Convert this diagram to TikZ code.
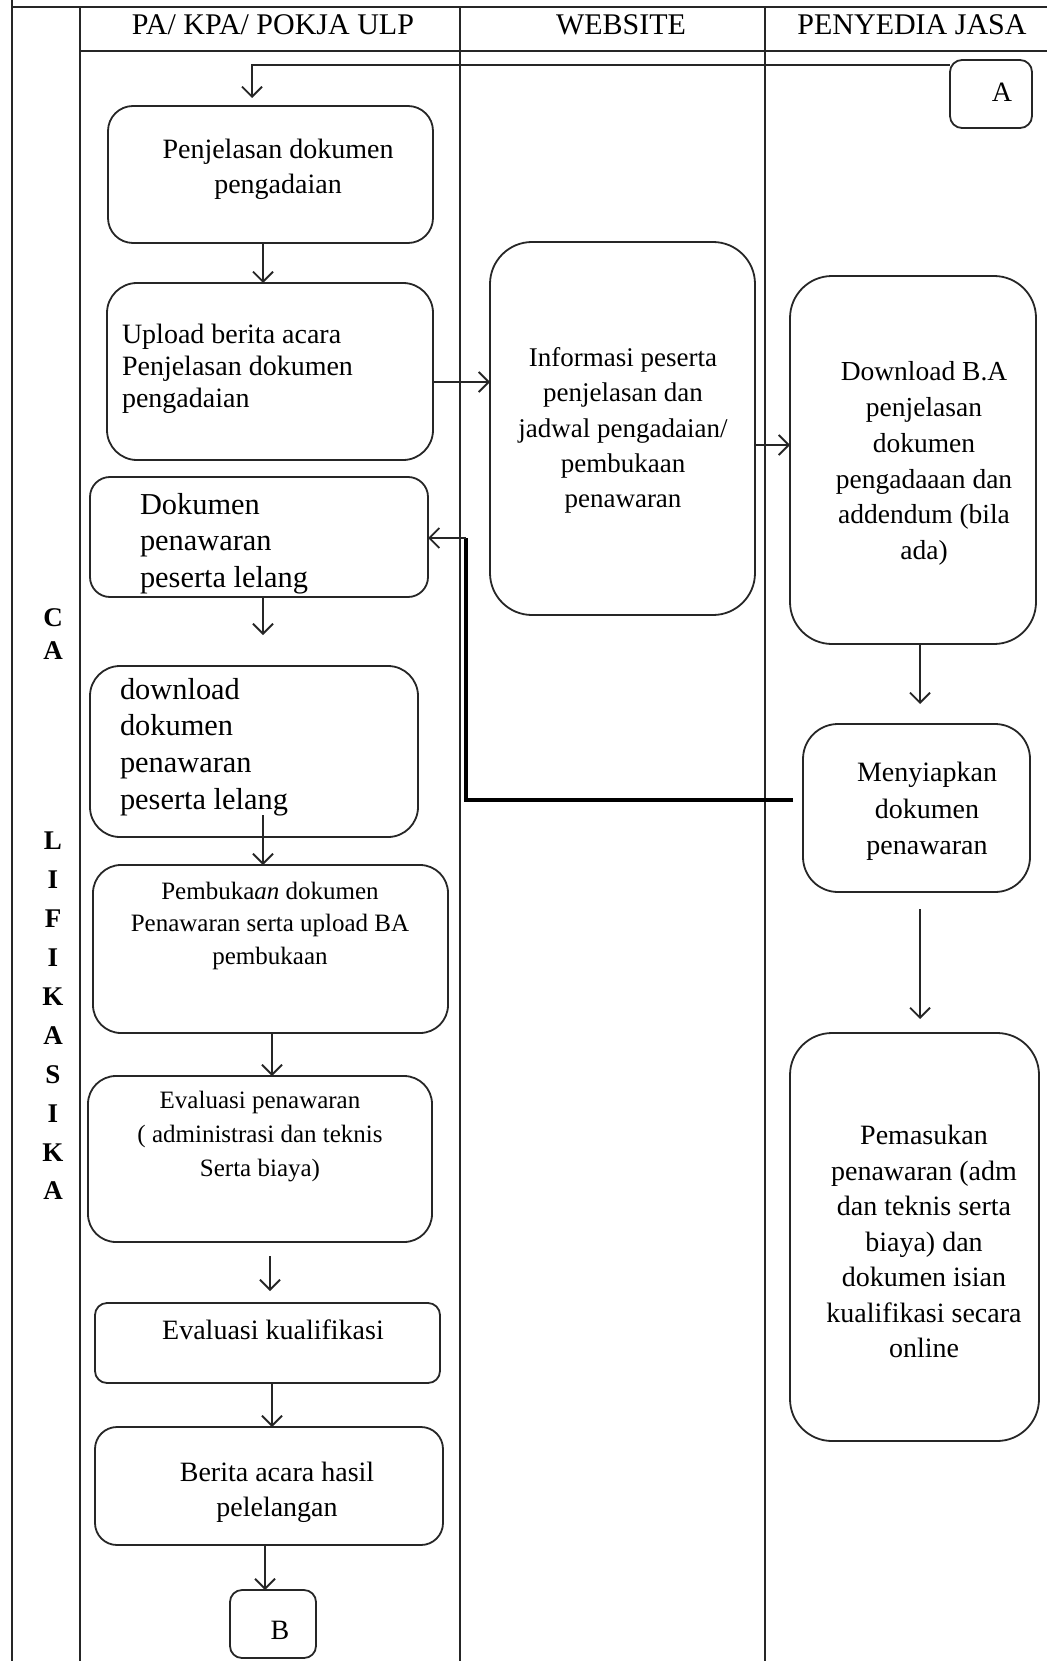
\documentclass[tikz,border=0pt]{standalone}
\usepackage{fontspec}
\setmainfont{Liberation Serif}
\usetikzlibrary{arrows.meta,calc}
\newcommand\myfs[2]{\fontsize{#1}{#2}\selectfont}
\tikzset{
  rbox/.style={draw=black!85, line width=1.8pt, rounded corners=#1, inner sep=0pt, outer sep=0pt},
  txt/.style={inner sep=0pt, outer sep=0pt, text=black},
  arr/.style={draw=black!85, line width=1.8pt, -{Straight Barb[length=10pt,width=20pt]}},
  lane/.style={draw=black!85, line width=1.6pt},
  heavy/.style={draw=black, line width=4.5pt},
}
\begin{document}
\begin{tikzpicture}[x=1pt,y=-1pt]
\useasboundingbox (0,0) rectangle (1047,1661);
% lanes
\draw[lane] (12,0) -- (12,1661);
\draw[lane] (12,7) -- (1047,7);
\draw[lane] (80,7) -- (80,1661);
\draw[lane] (80,51) -- (1047,51);
\draw[lane] (460,7) -- (460,1661);
\draw[lane] (765,7) -- (765,1661);
% headers
\node[txt, anchor=base, font=\myfs{30}{36}] (h1) at (273,35) {PA/ KPA/ POKJA ULP};
\node[txt, anchor=base, font=\myfs{30}{36}] (h2) at (621,35) {WEBSITE};
\node[txt, anchor=base, font=\myfs{30}{36}] (h3) at (912,35) {PENYEDIA JASA};
% side label
\node[txt, font=\myfs{27}{33}\bfseries, align=center] (s1) at (53,634.5) {C\\A};
\node[txt, font=\myfs{27}{38.9}\bfseries, align=center] (s2) at (53,1016) {L\\I\\F\\I\\K\\A\\S\\I\\K\\A};
% boxes
\node[rbox=12pt, minimum width=82pt, minimum height=68pt] (A) at (991,94) {};
\node[txt, font=\myfs{28}{34}] (tA) at (1002,92) {A};
\node[rbox=25pt, minimum width=325pt, minimum height=137pt] (b1) at (270.5,174.5) {};
\node[txt, font=\myfs{28}{35}, align=center] (t1) at (278,169.5) {Penjelasan dokumen\\pengadaian};
\node[rbox=30pt, minimum width=326pt, minimum height=177pt] (b2) at (270,371.5) {};
\node[txt, font=\myfs{28}{32}, align=left, anchor=west] (t2) at (122,368.5) {Upload berita acara\\Penjelasan dokumen\\pengadaian};
\node[rbox=42pt, minimum width=265pt, minimum height=373pt] (web) at (622.5,428.5) {};
\node[txt, font=\myfs{27}{35.3}, align=center] (tw) at (623,430.5) {Informasi peserta\\penjelasan dan\\jadwal pengadaian/\\pembukaan\\penawaran};
\node[rbox=42pt, minimum width=246pt, minimum height=368pt] (p1) at (913,460) {};
\node[txt, font=\myfs{27.5}{35.8}, align=center] (tp1) at (924,463.5) {Download B.A\\penjelasan\\dokumen\\pengadaaan dan\\addendum (bila\\ada)};
\node[rbox=35pt, minimum width=227pt, minimum height=168pt] (p2) at (916.5,808) {};
\node[txt, font=\myfs{28}{36.5}, align=center] (tp2) at (927,811.5) {Menyiapkan\\dokumen\\penawaran};
\node[rbox=42pt, minimum width=249pt, minimum height=408pt] (p3) at (914.5,1237) {};
\node[txt, font=\myfs{28}{35.5}, align=center] (tp3) at (924,1241.5) {Pemasukan\\penawaran (adm\\dan teknis serta\\biaya) dan\\dokumen isian\\kualifikasi secara\\online};
\node[rbox=20pt, minimum width=338pt, minimum height=120pt] (b3) at (259,537) {};
\node[txt, font=\myfs{30.4}{36.7}, align=left, anchor=west] (t3) at (140,543.5) {Dokumen\\penawaran\\peserta lelang};
\node[rbox=30pt, minimum width=328pt, minimum height=171pt] (b4) at (254,751.5) {};
\node[txt, font=\myfs{30.4}{36.7}, align=left, anchor=west] (t4) at (120,747) {download\\dokumen\\penawaran\\peserta lelang};
\node[rbox=28pt, minimum width=355pt, minimum height=168pt] (b5) at (270.5,949) {};
\node[txt, font=\myfs{25}{32.5}, align=center] (t5) at (270,925.5) {Pembuka\textit{an} dokumen\\Penawaran serta upload BA\\pembukaan};
\node[rbox=28pt, minimum width=344pt, minimum height=166pt] (b6) at (260,1159) {};
\node[txt, font=\myfs{25}{34}, align=center] (t6) at (260,1137) {Evaluasi penawaran\\( administrasi dan teknis\\Serta biaya)};
\node[rbox=12pt, minimum width=345pt, minimum height=80pt] (b7) at (267.5,1343) {};
\node[txt, font=\myfs{28}{34}] (t7) at (273,1330) {Evaluasi kualifikasi};
\node[rbox=22pt, minimum width=348pt, minimum height=118pt] (b8) at (269,1486) {};
\node[txt, font=\myfs{28}{35}, align=center] (t8) at (277,1492) {Berita acara hasil\\pelelangan};
\node[rbox=12pt, minimum width=86pt, minimum height=68pt] (B) at (273,1624) {};
\node[txt, font=\myfs{28}{34}] (tB) at (280,1630) {B};
% connectors
\coordinate (ca) at (252,65);
\draw[arr, shorten >=8pt] (A.west |- ca) -- (ca) -- (ca |- b1.north);
\draw[arr] ([xshift=-7.5pt]b1.south) -- ([xshift=-7.5pt]b1.south |- b2.north);
\draw[arr] ([yshift=-10.5pt]b2.east) -- ([yshift=-10.5pt]b2.east -| web.west);
\draw[arr] ([yshift=-16.5pt]web.east) -- ([yshift=-16.5pt]web.east -| p1.west);
\draw[arr, shorten >=20pt] ([xshift=7pt]p1.south) -- ([xshift=7pt]p1.south |- p2.north);
\draw[arr, shorten <=17pt, shorten >=14pt] ([xshift=3.5pt]p2.south) -- ([xshift=3.5pt]p2.south |- p3.north);
\coordinate (c1) at (466,538);
\draw[heavy, shorten <=10pt] ([yshift=8pt]p2.west) -| (c1);
\draw[arr] (c1) -- (c1 -| b3.east);
\draw[arr, shorten >=31pt] ([xshift=4pt]b3.south) -- ([xshift=4pt]b3.south |- b4.north);
\draw[arr] ([xshift=9pt,yshift=22pt]b4.south) -- ([xshift=9pt]b4.south |- b5.north);
\draw[arr] ([xshift=1.5pt]b5.south) -- ([xshift=1.5pt]b5.south |- b6.north);
\draw[arr, shorten <=14pt, shorten >=12pt] ([xshift=10pt]b6.south) -- ([xshift=10pt]b6.south |- b7.north);
\draw[arr] ([xshift=4.5pt]b7.south) -- ([xshift=4.5pt]b7.south |- b8.north);
\draw[arr] ([xshift=-4pt]b8.south) -- ([xshift=-4pt]b8.south |- B.north);
\end{tikzpicture}
\end{document}
